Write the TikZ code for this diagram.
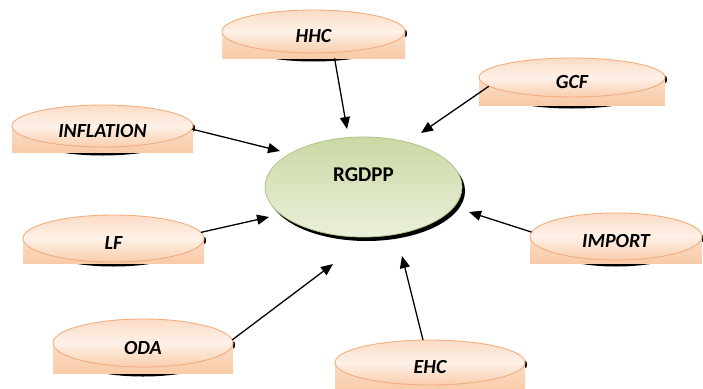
\documentclass[tikz,border=0pt]{standalone}
\usepackage{fontspec}
\setmainfont{Carlito}
\usetikzlibrary{shapes.geometric,arrows.meta,calc}

\definecolor{peachline}{HTML}{F2AE7E}
\definecolor{peachtop}{HTML}{FBDCC6}
\definecolor{peachmid}{HTML}{FEF1E7}
\definecolor{peachbot}{HTML}{F9CDAD}
\definecolor{peachbase}{HTML}{F9CBA8}
\definecolor{greenline}{HTML}{B0C58A}
\definecolor{greentop}{HTML}{CAD9A5}
\definecolor{greenbot}{HTML}{EAF0DA}

\tikzset{
  outer/.style={ellipse, draw=peachline, line width=0.9pt, inner sep=0pt, outer sep=0pt,
    top color=peachtop, bottom color=peachbot, middle color=peachmid,
    text height=22pt, text depth=0pt,
    font=\fontsize{20}{24}\selectfont\bfseries\itshape},
  core/.style={ellipse, draw=greenline, line width=0.8pt, inner sep=0pt, outer sep=0pt,
    top color=greentop, bottom color=greenbot,
    text height=13.5pt, text depth=24pt,
    font=\fontsize{21}{25}\selectfont\bfseries},
  arr/.style={line width=1.3pt, -{Triangle[length=12pt,width=10pt]}},
}

% #1 name, #2 cx, #3 cy, #4 x radius, #5 y radius, #6 base bottom, #7 text
\newcommand\peachnode[7]{%
  \fill[black] ({#2},{#6+3.5-#5}) ellipse [x radius={#4-10}, y radius=#5];
  \fill[black] ({#2+#4+0.6},{#3+2}) ellipse [x radius=1.4, y radius=3.5];
  \shade[top color=peachtop, bottom color=peachbase] ({#2-#4},#3) rectangle ({#2+#4},#6);
  \node[outer, minimum width={2*#4pt}, minimum height={2*#5pt}] (#1) at (#2,#3) {#7};
}

\begin{document}
\begin{tikzpicture}[x=1pt,y=-1pt]
\useasboundingbox (0,0) rectangle (703,388);

% central variable
\fill[black] (366.5,191) ellipse [x radius=98.5, y radius=50];
\node[core, minimum width=197pt, minimum height=100pt] (rg) at (363.5,187) {RGDPP};

% explanatory variables
\peachnode{hhc}{313.5}{31.5}{91.5}{21.5}{58}{HHC}
\peachnode{inf}{102.5}{126}{90.5}{21}{152}{INFLATION}
\peachnode{gcf}{572}{77.5}{93}{19.5}{105}{GCF}
\peachnode{lf}{113.5}{238.5}{90.5}{23.5}{263}{LF}
\peachnode{imp}{616}{236.5}{86}{23.5}{263}{IMPORT}
\peachnode{oda}{143}{343}{90}{24}{373}{ODA}
\peachnode{ehc}{430}{362.5}{95}{22.5}{392}{EHC}

% arrow tips, just short of the central ellipse
\coordinate (tHHC) at (347,129);
\coordinate (tGCF) at (421,133);
\coordinate (tINF) at (280,151);
\coordinate (tLF)  at (269,217);
\coordinate (tIMP) at (469,212);
\coordinate (tODA) at (333,264);
\coordinate (tEHC) at (402,256);

\draw[arr] ([xshift=21pt,yshift=-5pt]hhc.south) -- (tHHC);
\draw[arr] (gcf.186) -- (tGCF);
\draw[arr] (inf.-2) -- (tINF);
\draw[arr] (lf.4) -- (tLF);
\draw[arr] (imp.177) -- (tIMP);
\draw[arr] (oda.2) -- (tODA);
\draw[arr] ([xshift=-7pt]ehc.north) -- (tEHC);
\end{tikzpicture}
\end{document}
